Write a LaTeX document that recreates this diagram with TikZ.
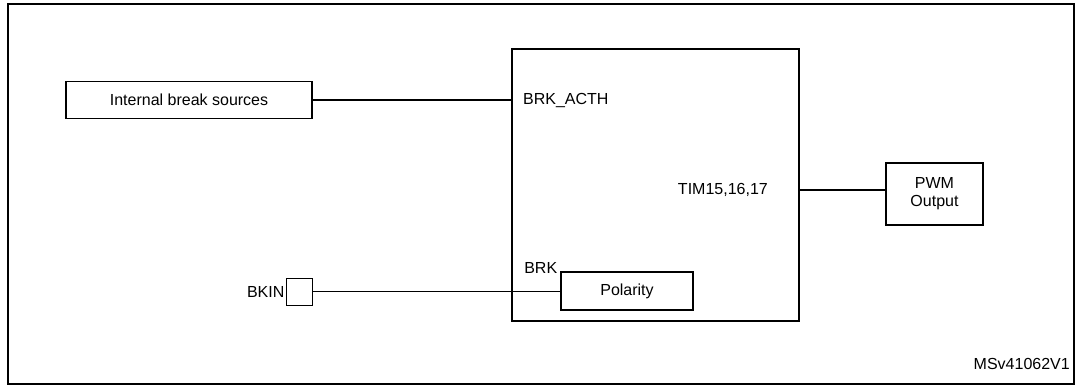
\documentclass[tikz,border=0pt]{standalone}
\usepackage{fontspec}
\setmainfont{Liberation Sans}
\begin{document}
\begin{tikzpicture}[x=1pt,y=-1pt,font=\fontsize{16}{18}\selectfont,
    blk/.style={rectangle,draw,line width=1.2pt,inner sep=0pt,align=center}]
        \useasboundingbox (0,0) rectangle (1082,388);
        \draw[line width=2.1pt] (8,4) rectangle (1074,384);
        \node[blk,line width=1.9pt,minimum width=287,minimum height=272] at (655.5,185) (timer) {};
        \node[blk,minimum width=246,minimum height=37] at (189,100) (intbrk) {Internal break sources};
        \node[anchor=west,inner sep=0pt] at (523,101) (acth) {BRK\_ACTH};
        \draw[line width=1.2pt] (intbrk.east) -- (timer.west |- intbrk.east);
        \node[anchor=east,inner sep=0pt] at (768,190) (timlbl) {TIM15,16,17};
        \node[blk,minimum width=97,minimum height=62] at (934.5,194) (pwm) {PWM\\Output};
        \draw[line width=1.2pt] (timer.east |- timlbl) -- (pwm.west |- timlbl);
        \node[blk,line width=0.8pt,minimum width=26,minimum height=27] at (299,291.5) (bkin) {};
        \node[anchor=east,inner sep=1pt] at (bkin.west) {BKIN};
        \node[blk,minimum width=132,minimum height=38] at (627,291) (polarity) {Polarity};
        \node[anchor=south east,inner sep=0pt] at ([shift={(-3,2)}]polarity.north west) (brk) {BRK};
        \draw[line width=1.2pt] (bkin.east) -- (polarity.west |- bkin.east);
        \node[anchor=east,inner sep=0pt] at (1070,364) {MSv41062V1};
    \end{tikzpicture}
\end{document}
